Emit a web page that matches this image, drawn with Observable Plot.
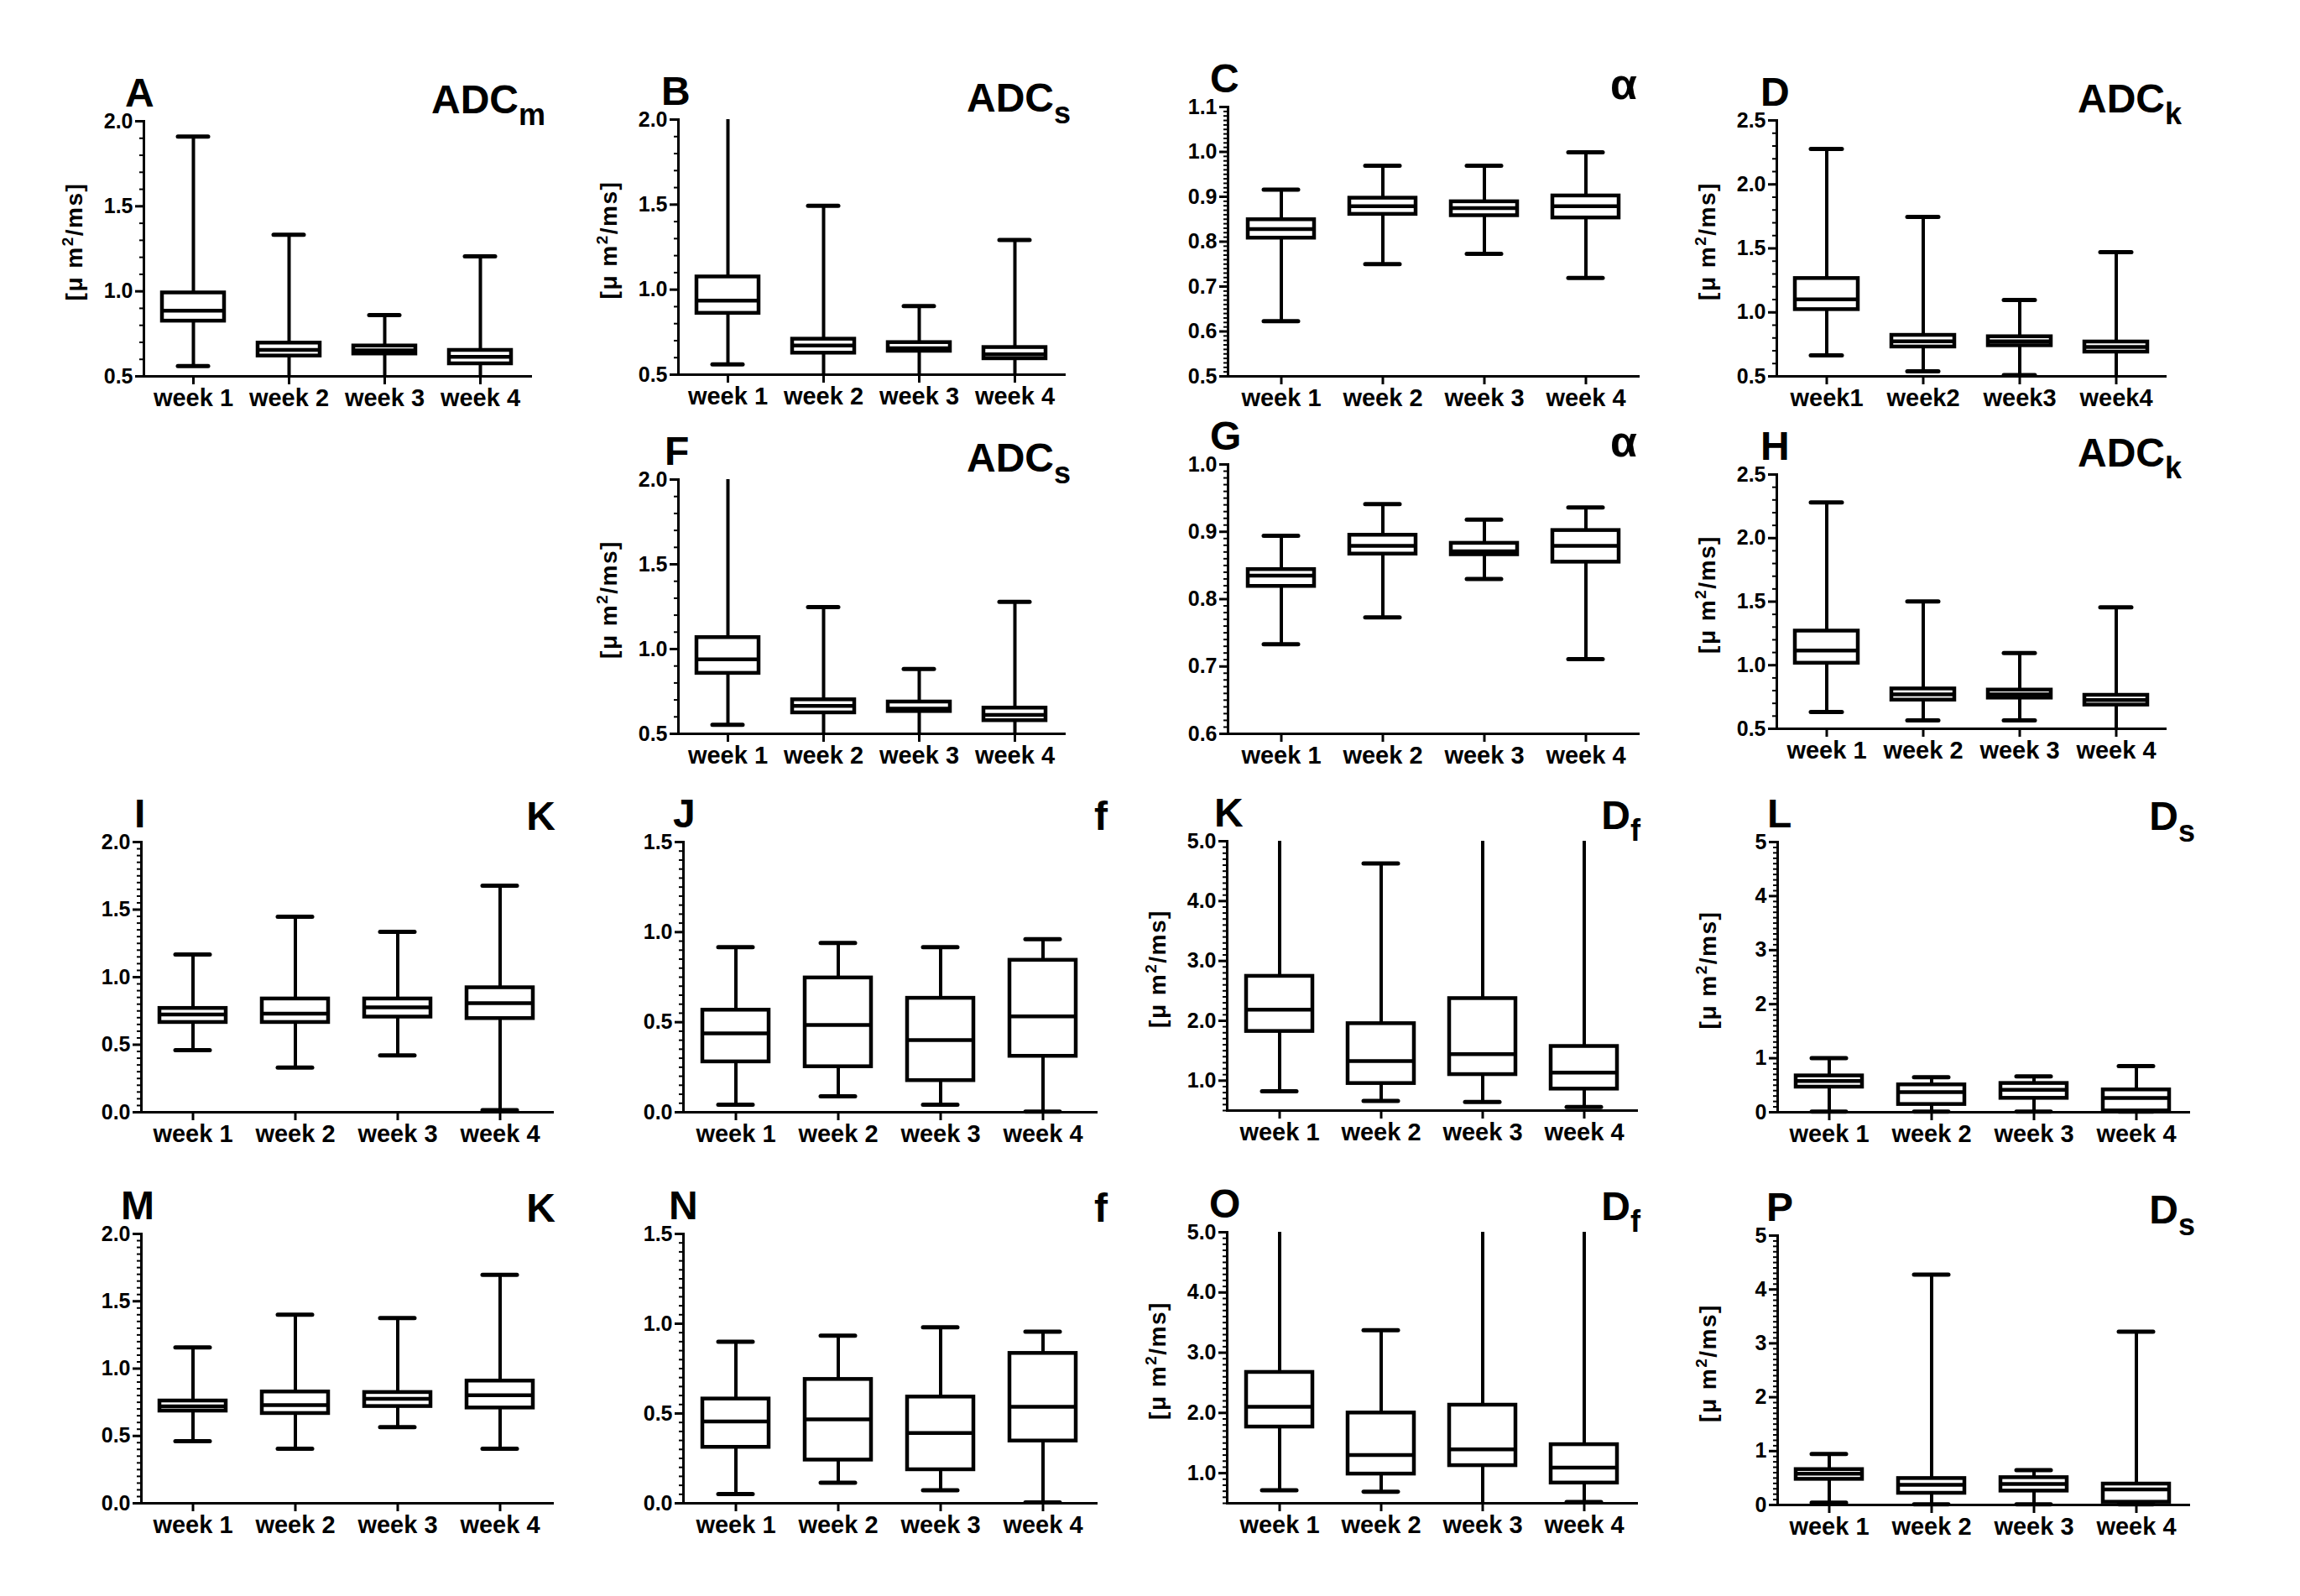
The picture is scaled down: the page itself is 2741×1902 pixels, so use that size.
<!DOCTYPE html>
<html><head><meta charset="utf-8">
<script src="https://cdn.jsdelivr.net/npm/d3@7"></script>
<script src="https://cdn.jsdelivr.net/npm/@observablehq/plot@0.6"></script>
<style>
html,body{margin:0;padding:0;background:#fff;}
#root{position:relative;width:2741px;height:1902px;background:#fff;overflow:hidden;font-family:"Liberation Sans",Arial,sans-serif;}
#root svg{position:absolute;}
</style></head><body><div id="root"></div>
<script>
// ---------- DATA ----------
const weeks  = ["week 1", "week 2", "week 3", "week 4"];
const weeksD = ["week1", "week2", "week3", "week4"];
// each row: [min, q1, median, q3, max] for week 1..4
const A_ADCm = [[0.56,0.825,0.886,0.991,1.91],[0.50,0.620,0.656,0.696,1.333],[0.50,0.632,0.653,0.679,0.86],[0.50,0.574,0.615,0.653,1.205]];
const B_ADCs = [[0.561,0.861,0.936,1.075,2.0],[0.50,0.627,0.671,0.709,1.493],[0.50,0.638,0.655,0.689,0.903],[0.50,0.594,0.620,0.660,1.292]];
const C_alpha = [[0.623,0.808,0.828,0.849,0.916],[0.750,0.861,0.879,0.897,0.969],[0.773,0.858,0.875,0.889,0.969],[0.719,0.853,0.879,0.902,0.999]];
const D_ADCk = [[0.664,1.022,1.101,1.265,2.277],[0.539,0.730,0.773,0.821,1.746],[0.51,0.740,0.773,0.810,1.097],[0.50,0.690,0.730,0.769,1.470]];
const F_ADCs = [[0.553,0.857,0.939,1.068,2.0],[0.50,0.624,0.665,0.701,1.247],[0.50,0.632,0.648,0.688,0.883],[0.50,0.578,0.611,0.652,1.278]];
const G_alpha = [[0.733,0.819,0.835,0.844,0.894],[0.773,0.867,0.879,0.895,0.941],[0.830,0.866,0.871,0.883,0.918],[0.711,0.855,0.879,0.902,0.936]];
const H_ADCk = [[0.632,1.016,1.115,1.269,2.280],[0.566,0.726,0.770,0.814,1.502],[0.566,0.742,0.770,0.805,1.096],[0.50,0.687,0.726,0.764,1.456]];
const I_K  = [[0.460,0.665,0.723,0.769,1.167],[0.330,0.665,0.730,0.839,1.447],[0.421,0.705,0.777,0.839,1.335],[0.015,0.694,0.808,0.922,1.677]];
const J_f  = [[0.042,0.280,0.438,0.567,0.917],[0.089,0.253,0.485,0.746,0.940],[0.042,0.176,0.401,0.633,0.917],[0.003,0.311,0.532,0.844,0.961]];
const K_Df = [[0.823,1.823,2.186,2.744,5.0],[0.660,0.953,1.326,1.953,4.628],[0.642,1.102,1.442,2.372,5.0],[0.558,0.860,1.135,1.572,5.0]];
const L_Ds = [[0.01,0.466,0.580,0.674,1.0],[0.01,0.145,0.373,0.508,0.648],[0.01,0.259,0.415,0.534,0.663],[0.01,0.026,0.264,0.415,0.855]];
const M_K  = [[0.461,0.685,0.719,0.760,1.157],[0.405,0.667,0.729,0.827,1.400],[0.565,0.719,0.775,0.823,1.375],[0.405,0.708,0.802,0.908,1.697]];
const N_f  = [[0.051,0.312,0.456,0.581,0.900],[0.115,0.241,0.467,0.690,0.933],[0.073,0.187,0.391,0.592,0.980],[0.005,0.347,0.537,0.835,0.956]];
const O_Df = [[0.716,1.767,2.102,2.674,5.0],[0.693,0.986,1.302,2.000,3.372],[0.50,1.126,1.395,2.130,5.0],[0.520,0.837,1.093,1.474,5.0]];
const P_Ds = [[0.041,0.477,0.580,0.658,0.948],[0.01,0.218,0.373,0.492,4.275],[0.01,0.259,0.390,0.508,0.648],[0.01,0.052,0.290,0.389,3.218]];

// tick labels
const ticksADC = [0.5, 1.0, 1.5, 2.0];
const ticksC   = [0.5, 0.6, 0.7, 0.8, 0.9, 1.0, 1.1];
const ticksG   = [0.6, 0.7, 0.8, 0.9, 1.0];
const ticksK25 = [0.5, 1.0, 1.5, 2.0, 2.5];
const ticksI   = [0.0, 0.5, 1.0, 1.5, 2.0];
const ticksJ   = [0.0, 0.5, 1.0, 1.5];
const ticksDf  = [1.0, 2.0, 3.0, 4.0, 5.0];
const ticksDs  = [0, 1, 2, 3, 4, 5];

// ---------- LAYOUT ----------
const f1 = d3.format(".1f"), f0 = d3.format("d");
const panels = [
  {id:"A", lx:-22, t:"ADC", s:"m", stats:A_ADCm, labels:weeks,  domain:[0.5,2.0], major:ticksADC, minor:0.1,  fmt:f1, yl:true,  b:[171,632,144,448,650]},
  {id:"B", lx:-20, t:"ADC", s:"s", stats:B_ADCs, labels:weeks,  domain:[0.5,2.0], major:ticksADC, minor:0.1,  fmt:f1, yl:true,  b:[808,1268,142,446,1276]},
  {id:"C", lx:-21, t:"α",   s:"",  stats:C_alpha,labels:weeks,  domain:[0.5,1.1], major:ticksC,   minor:0.01, fmt:f1, yl:false, b:[1463,1952,127,448,1951]},
  {id:"D", lx:-19, t:"ADC", s:"k", stats:D_ADCk, labels:weeksD, domain:[0.5,2.5], major:ticksK25, minor:0.1,  fmt:f1, yl:true,  b:[2117,2580,143,448,2600]},
  {id:"F", lx:-16, t:"ADC", s:"s", stats:F_ADCs, labels:weeks,  domain:[0.5,2.0], major:ticksADC, minor:0.1,  fmt:f1, yl:true,  b:[808,1268,571,874,1276]},
  {id:"G", lx:-21, t:"α",   s:"",  stats:G_alpha,labels:weeks,  domain:[0.6,1.0], major:ticksG,   minor:0.01, fmt:f1, yl:false, b:[1463,1952,553,874,1951]},
  {id:"H", lx:-19, t:"ADC", s:"k", stats:H_ADCk, labels:weeks,  domain:[0.5,2.5], major:ticksK25, minor:0.1,  fmt:f1, yl:true,  b:[2117,2580,565,868,2600]},
  {id:"I", lx:-8,  t:"K",   s:"",  stats:I_K,    labels:weeks,  domain:[0.0,2.0], major:ticksI,   minor:0.05, fmt:f1, yl:false, b:[168,658,1003,1325,662]},
  {id:"J", lx:-12, t:"f",   s:"",  stats:J_f,    labels:weeks,  domain:[0.0,1.5], major:ticksJ,   minor:0.05, fmt:f1, yl:false, b:[814,1306,1003,1325,1320]},
  {id:"K", lx:-15, t:"D",   s:"f", stats:K_Df,   labels:weeks,  domain:[0.5,5.0], major:ticksDf,  minor:0.1,  fmt:f1, yl:true,  b:[1462,1950,1002,1323,1955]},
  {id:"L", lx:-12, t:"D",   s:"s", stats:L_Ds,   labels:weeks,  domain:[0,5],     major:ticksDs,  minor:0.1,  fmt:f0, yl:true,  b:[2118,2608,1003,1325,2616]},
  {id:"M", lx:-24, t:"K",   s:"",  stats:M_K,    labels:weeks,  domain:[0.0,2.0], major:ticksI,   minor:0.05, fmt:f1, yl:false, b:[168,658,1470,1791,662]},
  {id:"N", lx:-17, t:"f",   s:"",  stats:N_f,    labels:weeks,  domain:[0.0,1.5], major:ticksJ,   minor:0.05, fmt:f1, yl:false, b:[814,1306,1470,1791,1320]},
  {id:"O", lx:-21, t:"D",   s:"f", stats:O_Df,   labels:weeks,  domain:[0.5,5.0], major:ticksDf,  minor:0.1,  fmt:f1, yl:true,  b:[1462,1950,1468,1791,1955]},
  {id:"P", lx:-13, t:"D",   s:"s", stats:P_Ds,   labels:weeks,  domain:[0,5],     major:ticksDs,  minor:0.1,  fmt:f0, yl:true,  b:[2118,2608,1472,1793,2616]}
];

const FONT = "Liberation Sans, Arial, sans-serif";
const ML = 130, MR = 30, MT = 30, MB = 70;
const root = document.getElementById("root");

for (const p of panels) {
  const [axisX, xEnd, yTop, yBot] = p.b;
  const width = xEnd - axisX + ML + MR;
  const height = yBot - yTop + MT + MB;
  const [lo, hi] = p.domain;
  const rows = p.labels.map((w, i) => ({week: w, min: p.stats[i][0], q1: p.stats[i][1], med: p.stats[i][2], q3: p.stats[i][3], max: p.stats[i][4]}));
  const caps = rows.flatMap(r => [r.min, r.max].filter(v => v > lo && v < hi).map(v => ({week: r.week, v})));
  const minor = d3.range(Math.round((hi - lo) / p.minor) + 1).map(i => +(lo + i * p.minor).toFixed(4));
  const chart = Plot.plot({
    width, height, marginLeft: ML, marginRight: MR, marginTop: MT, marginBottom: MB,
    x: {type: "band", domain: p.labels, paddingInner: 0.35, paddingOuter: 0.18, axis: null},
    y: {domain: p.domain, axis: null},
    style: {background: "transparent", fontFamily: FONT, fontWeight: "bold", fontSize: "25px", color: "black", overflow: "visible", maxWidth: "none"},
    marks: [
      Plot.axisY({ticks: minor, tickSize: 5, strokeWidth: 2, tickFormat: () => "", label: null}),
      Plot.axisY({ticks: p.major, tickSize: 10, tickPadding: 3, strokeWidth: 3, tickFormat: p.fmt, fontSize: 25, fontWeight: "bold", label: null}),
      Plot.axisX({tickSize: 10, tickPadding: 5, strokeWidth: 3, fontSize: 29, fontWeight: "bold", label: null}),
      Plot.ruleX(rows, {x: "week", y1: "min", y2: "max", strokeWidth: 4}),
      Plot.barY(rows, {x: "week", y1: "q1", y2: "q3", fill: "white", stroke: "black", strokeWidth: 4.5}),
      Plot.tickY(rows, {x: "week", y: "med", strokeWidth: 4.5}),
      Plot.tickY(caps, {x: "week", y: "v", strokeWidth: 5, strokeLinecap: "round", insetLeft: 19, insetRight: 19}),
      Plot.frame({anchor: "left", strokeWidth: 3}),
      Plot.frame({anchor: "bottom", strokeWidth: 3})
    ]
  });
  chart.style.left = (axisX - ML) + "px";
  chart.style.top = (yTop - MT) + "px";
  root.appendChild(chart);
}

// ---------- TEXT OVERLAY ----------
const ov = d3.select(root).append("svg")
  .attr("width", 2741).attr("height", 1902)
  .style("left", "0px").style("top", "0px").style("pointer-events", "none")
  .attr("font-family", FONT).attr("font-weight", "bold").attr("fill", "black");

for (const p of panels) {
  const [axisX, xEnd, yTop, yBot, tRight] = p.b;
  const upper = yTop < 900;
  ov.append("text").attr("x", axisX + p.lx).attr("y", yTop - 17).attr("font-size", 48).text(p.id);
  const t = ov.append("text").attr("x", tRight).attr("y", yTop - (upper ? 9 : 14))
    .attr("text-anchor", "end").attr("font-size", p.t === "α" ? 52 : 48);
  t.append("tspan").text(p.t);
  if (p.s) t.append("tspan").attr("dy", 14).attr("font-size", 36).text(p.s);
  if (p.yl) {
    const cx = axisX - 83, cy = (yTop + yBot) / 2 - 8;
    const yl = ov.append("text").attr("transform", `translate(${cx},${cy}) rotate(-90)`)
      .attr("text-anchor", "middle").attr("dy", "0.35em").attr("font-size", 28)
      .attr("letter-spacing", 1.5);
    yl.append("tspan").text("[μ m");
    yl.append("tspan").attr("dy", -11).attr("font-size", 19).text("2");
    yl.append("tspan").attr("dy", 11).text("/ms]");
  }
}
</script></body></html>
